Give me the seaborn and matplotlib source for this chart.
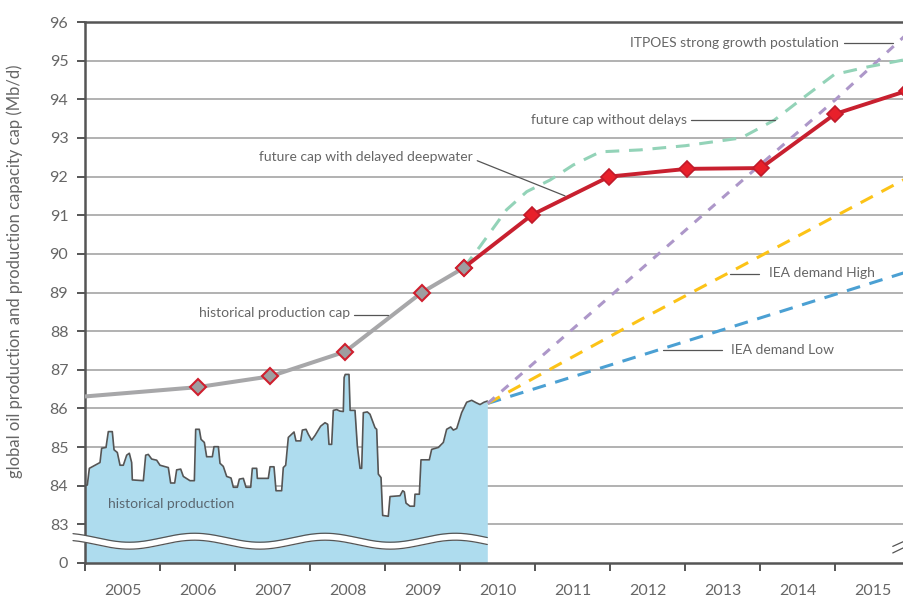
import numpy as np
import matplotlib
matplotlib.use("Agg")
import matplotlib.pyplot as plt
import seaborn as sns

# historical production (Mb/d)
prod_year = [2005.000, 2005.031, 2005.058, 2005.200, 2005.222, 2005.280, 2005.311, 2005.364,
             2005.387, 2005.431, 2005.467, 2005.511, 2005.556, 2005.591, 2005.622, 2005.631,
             2005.778, 2005.809, 2005.844, 2005.889, 2005.956, 2006.000, 2006.111, 2006.142,
             2006.196, 2006.222, 2006.276, 2006.311, 2006.400, 2006.458, 2006.476, 2006.524,
             2006.547, 2006.591, 2006.622, 2006.698, 2006.720, 2006.778, 2006.800, 2006.844,
             2006.889, 2006.947, 2006.978, 2007.031, 2007.058, 2007.111, 2007.147, 2007.209,
             2007.231, 2007.289, 2007.298, 2007.444, 2007.467, 2007.520, 2007.547, 2007.622,
             2007.644, 2007.676, 2007.711, 2007.787, 2007.813, 2007.876, 2007.898, 2007.947,
             2007.978, 2008.022, 2008.067, 2008.142, 2008.200, 2008.236, 2008.253, 2008.289,
             2008.311, 2008.356, 2008.400, 2008.444, 2008.455, 2008.470, 2008.520, 2008.535,
             2008.600, 2008.631, 2008.667, 2008.689, 2008.711, 2008.764, 2008.800, 2008.867,
             2008.889, 2008.911, 2008.947, 2008.969, 2009.044, 2009.067, 2009.200, 2009.236,
             2009.258, 2009.280, 2009.333, 2009.391, 2009.400, 2009.458, 2009.480, 2009.591,
             2009.622, 2009.711, 2009.778, 2009.822, 2009.876, 2009.911, 2009.956, 2010.022,
             2010.089, 2010.156, 2010.213, 2010.267, 2010.320, 2010.364]
prod_value = [84.00, 84.02, 84.45, 84.60, 84.97, 84.99, 85.40, 85.40,
              84.93, 84.86, 84.53, 84.53, 84.79, 84.84, 84.60, 84.15,
              84.13, 84.79, 84.81, 84.69, 84.66, 84.53, 84.47, 84.07,
              84.07, 84.41, 84.43, 84.24, 84.13, 84.13, 85.46, 85.46,
              85.20, 85.12, 84.75, 84.75, 85.01, 85.01, 84.58, 84.50,
              84.24, 84.20, 83.96, 83.96, 84.17, 84.19, 83.96, 83.96,
              84.45, 84.45, 84.19, 84.19, 84.49, 84.49, 83.87, 83.87,
              84.47, 84.53, 85.25, 85.39, 85.16, 85.16, 85.44, 85.46,
              85.33, 85.18, 85.30, 85.54, 85.63, 85.59, 85.07, 85.07,
              85.95, 85.97, 85.93, 85.92, 86.80, 86.88, 86.88, 85.95,
              85.95, 85.03, 84.45, 84.45, 85.89, 85.91, 85.85, 85.50,
              85.46, 84.30, 84.21, 83.23, 83.21, 83.72, 83.74, 83.87,
              83.84, 83.55, 83.47, 83.47, 83.78, 83.78, 84.67, 84.67,
              84.94, 84.99, 85.12, 85.46, 85.52, 85.44, 85.48, 85.89,
              86.16, 86.21, 86.15, 86.10, 86.16, 86.19]

# historical production cap
cap_year = [2005.0, 2006.5, 2007.47, 2008.47, 2009.49, 2010.05]
cap_value = [86.31, 86.55, 86.83, 87.47, 89.0, 89.64]

# future cap with delayed deepwater
delayed_year = [2010.05, 2010.96, 2011.99, 2013.03, 2014.01, 2015.0, 2015.96]
delayed_value = [89.64, 91.01, 92.0, 92.2, 92.22, 93.62, 94.22]

# future cap without delays
nodelay_year = [2010.05, 2010.27, 2010.62, 2010.89, 2011.2, 2011.51, 2011.87, 2012.4,
                2013.01, 2013.75, 2014.19, 2014.55, 2014.99, 2015.44, 2015.92]
nodelay_value = [89.64, 90.2, 91.14, 91.61, 91.91, 92.3, 92.64, 92.69,
                 92.8, 93.0, 93.46, 94.0, 94.64, 94.84, 95.02]

# ITPOES strong growth
itpoes_year = [2010.37, 2011.0, 2012.0, 2013.0, 2014.0, 2015.0, 2015.92]
itpoes_value = [86.13, 87.2, 88.9, 90.6, 92.3, 93.98, 95.62]

# IEA demand scenarios
iea_high_year = [2010.37, 2012.41, 2014.37, 2015.92]
iea_high_value = [86.13, 88.3, 90.32, 91.92]
iea_low_year = [2010.37, 2012.41, 2015.92]
iea_low_value = [86.13, 87.37, 89.51]

years = list(range(2005, 2016))
ytick_values = list(range(82, 97))
ytick_labels = ["0"] + [str(v) for v in range(83, 97)]

sns.set_theme(style="white")
plt.rcParams["font.family"] = ["Lato", "DejaVu Sans"]

TXT = "#666666"
DARK = "#555555"

fig = plt.figure(figsize=(9.04, 5.99), dpi=100)
ax = fig.add_axes([85 / 904, 36 / 599, 819 / 904, 541 / 599])
ax.set_xlim(2005, 2005 + 819 / 75)
ax.set_ylim(82, 96)

# grid
for v in ytick_values[1:-1]:
    ax.axhline(v, color="#ababab", lw=1.3, zorder=0.5)

# historical production area
ax.fill_between(prod_year, 82, prod_value, color="#aedcee", lw=0, zorder=1)
sns.lineplot(x=prod_year, y=prod_value, ax=ax, color=DARK, lw=1.2,
             estimator=None, sort=False, zorder=2)

# axis break band across the production area
brk_x = np.linspace(2004.84, prod_year[-1], 300)
brk_top = 82.654 + 0.116 * np.cos(2 * np.pi * (brk_x - 2008.2) / 1.74)
brk_bot = brk_top - 0.18
ax.fill_between(brk_x, brk_bot, brk_top, color="white", lw=0, zorder=3, clip_on=False)
ax.plot(brk_x, brk_top, color=DARK, lw=0.9, zorder=3.1, clip_on=False)
ax.plot(brk_x, brk_bot, color=DARK, lw=0.9, zorder=3.1, clip_on=False)
# break marks on the right edge
ax.plot([2015.77, 2015.93], [82.43, 82.57], color=DARK, lw=0.9, clip_on=False)
ax.plot([2015.77, 2015.93], [82.26, 82.41], color=DARK, lw=0.9, clip_on=False)

# scenario lines
sns.lineplot(x=iea_low_year, y=iea_low_value, ax=ax, color="#4ba0d3", lw=2.2,
             linestyle=(0, (4.5, 3.2)), estimator=None, sort=False, zorder=2.2)
sns.lineplot(x=iea_high_year, y=iea_high_value, ax=ax, color="#fcc317", lw=2.2,
             linestyle=(0, (4.5, 3.2)), estimator=None, sort=False, zorder=2.2)
sns.lineplot(x=itpoes_year, y=itpoes_value, ax=ax, color="#ad97c9", lw=2.2,
             linestyle=(0, (3, 3)), estimator=None, sort=False, zorder=2.3)
sns.lineplot(x=nodelay_year, y=nodelay_value, ax=ax, color="#93d3b8", lw=2.2,
             linestyle=(0, (4.5, 3.2)), estimator=None, sort=False, zorder=2.4)

# capacity caps
sns.lineplot(x=delayed_year, y=delayed_value, ax=ax, color="#c8202f", lw=2.8,
             marker="D", markersize=8, markerfacecolor="#e8202a",
             markeredgecolor="#c01a2a", markeredgewidth=1.2,
             estimator=None, sort=False, zorder=5)
sns.lineplot(x=cap_year, y=cap_value, ax=ax, color="#a7a7a9", lw=2.9,
             estimator=None, sort=False, zorder=6)
sns.lineplot(x=cap_year[1:], y=cap_value[1:], ax=ax, color="#a7a7a9", lw=0,
             marker="D", markersize=8, markerfacecolor="#9e9ea0",
             markeredgecolor="#cf1f2e", markeredgewidth=1.5,
             estimator=None, sort=False, zorder=6.5)

# annotations with leader lines
def label(x, y, text, ha):
    ax.text(x, y, text, ha=ha, va="center", color=TXT, fontsize=10, zorder=7)

def leader(xs, ys):
    ax.plot(xs, ys, color=DARK, lw=0.9, zorder=7)

label(2015.05, 95.46, "ITPOES strong growth postulation", "right")
leader([2015.12, 2015.77], [95.46, 95.46])
label(2013.03, 93.47, "future cap without delays", "right")
leader([2013.08, 2014.2], [93.47, 93.47])
label(2010.17, 92.51, "future cap with delayed deepwater", "right")
leader([2010.23, 2011.4], [92.41, 91.5])
label(2008.53, 88.48, "historical production cap", "right")
leader([2008.59, 2009.04], [88.43, 88.43])
label(2014.12, 89.51, "IEA demand High", "left")
leader([2013.6, 2013.99], [89.49, 89.49])
label(2013.61, 87.52, "IEA demand Low", "left")
leader([2012.71, 2013.49], [87.52, 87.52])
ax.text(2005.31, 83.52, "historical production", ha="left", va="center",
        color="#5a6770", fontsize=10, zorder=7)

# axes styling
for side in ["left", "bottom", "top"]:
    ax.spines[side].set_color(DARK)
    ax.spines[side].set_linewidth(1.8)
    ax.spines[side].set_visible(True)
ax.spines["right"].set_visible(False)

ax.set_yticks(ytick_values)
ax.set_yticklabels(ytick_labels)
ax.set_xticks(years)
ax.set_xticklabels([])
ax.set_xticks([y + 0.5 for y in years], minor=True)
ax.set_xticklabels([str(y) for y in years], minor=True)
ax.tick_params(axis="x", which="major", length=6, width=1.4, color=DARK, direction="out",
               bottom=True)
ax.tick_params(axis="x", which="minor", length=0, pad=15, labelsize=11.5, labelcolor=TXT)
ax.tick_params(axis="y", length=6, width=1.4, color=DARK, direction="out", left=True,
               pad=6, labelsize=11.5, labelcolor=TXT)

ax.set_xlabel("")
ax.set_ylabel("global oil production and production capacity cap (Mb/d)",
              fontsize=12, color=TXT)
ax.yaxis.set_label_coords(-0.076, 0.54)

fig.savefig("out.png", dpi=100)
